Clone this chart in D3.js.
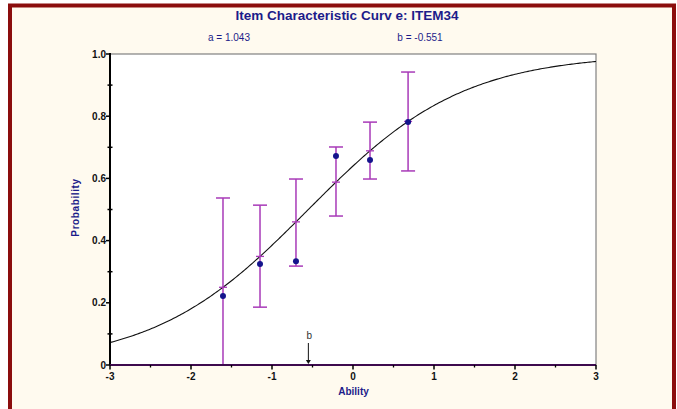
<!DOCTYPE html>
<html>
<head>
<meta charset="utf-8">
<script src="https://cdn.jsdelivr.net/npm/d3@7"></script>
<style>
  html, body { margin: 0; padding: 0; background: #ffffff; }
  svg { display: block; }
  text { font-family: Arial, "Liberation Sans", sans-serif; }
</style>
</head>
<body>
<svg id="chart" width="677" height="409"></svg>
<script>
// Item parameters (2PL logistic model)
const itemName = "ITEM34";
const paramA = 1.043;
const paramB = -0.551;

// Observed proportions at each ability group
const abilities = [-1.605, -1.148, -0.704, -0.21, 0.21, 0.68];
const observed  = [0.222, 0.325, 0.334, 0.672, 0.659, 0.781];
const lowerCI   = [-0.037, 0.186, 0.318, 0.479, 0.598, 0.624];
const upperCI   = [0.537, 0.514, 0.598, 0.701, 0.781, 0.942];

// Axis ticks
const xTicks = [-3, -2, -1, 0, 1, 2, 3];
const xMinor = [-2.5, -1.5, -0.5, 0.5, 1.5, 2.5];
const yTicks = [0, 0.2, 0.4, 0.6, 0.8, 1.0];
const yMinor = [0.1, 0.3, 0.5, 0.7, 0.9];
const yTickLabels = ["0", "0.2", "0.4", "0.6", "0.8", "1.0"];

const icc = t => 1 / (1 + Math.exp(-paramA * (t - paramB)));

const svg = d3.select("#chart");
const W = 677, H = 409;
const plot = { left: 110, right: 596, top: 54, bottom: 365 };

const x = d3.scaleLinear().domain([-3, 3]).range([plot.left, plot.right]);
const y = d3.scaleLinear().domain([0, 1]).range([plot.bottom, plot.top]);

const navy = "#1c1c8a";
const barColor = "#a83ab8";

// Outer panel with dark red frame
svg.append("rect").attr("x", 10).attr("y", 5.5).attr("width", 664).attr("height", H)
  .attr("fill", "#fffaef").attr("stroke", "#8b0d0d").attr("stroke-width", 4);

// Plot area
svg.append("rect").attr("x", plot.left).attr("y", plot.top)
  .attr("width", plot.right - plot.left).attr("height", plot.bottom - plot.top)
  .attr("fill", "#ffffff").attr("stroke", "#808080").attr("stroke-width", 1.2);

// Title and parameter captions
svg.append("text").attr("x", 347).attr("y", 20).attr("text-anchor", "middle")
  .attr("font-size", 13.5).attr("font-weight", "bold").attr("fill", navy)
  .text("Item Characteristic Curv e: " + itemName);
svg.append("text").attr("x", 229).attr("y", 41).attr("text-anchor", "middle")
  .attr("font-size", 10).attr("fill", navy).text("a = " + paramA.toFixed(3));
svg.append("text").attr("x", 420).attr("y", 41).attr("text-anchor", "middle")
  .attr("font-size", 10).attr("fill", navy).text("b = " + paramB.toFixed(3));

// Model curve
const curvePts = d3.range(-3, 3.0001, 0.02).map(t => [t, icc(t)]);
svg.append("path").datum(curvePts)
  .attr("d", d3.line().x(d => x(d[0])).y(d => y(d[1])))
  .attr("fill", "none").attr("stroke", "#111").attr("stroke-width", 1.1);

// Confidence intervals around the model curve
const clip = v => Math.max(0, Math.min(1, v));
const bars = svg.append("g");
abilities.forEach((a, i) => {
  const cx = x(a);
  const yl = y(clip(lowerCI[i])), yu = y(clip(upperCI[i]));
  bars.append("line").attr("x1", cx).attr("x2", cx).attr("y1", yl).attr("y2", yu)
    .attr("stroke", barColor).attr("stroke-width", 1.5);
  bars.append("line").attr("x1", cx - 7).attr("x2", cx + 7).attr("y1", yu).attr("y2", yu)
    .attr("stroke", barColor).attr("stroke-width", 1.5);
  if (lowerCI[i] >= 0) {
    bars.append("line").attr("x1", cx - 7).attr("x2", cx + 7).attr("y1", yl).attr("y2", yl)
      .attr("stroke", barColor).attr("stroke-width", 1.5);
  }
  const ym = y(icc(a));
  bars.append("line").attr("x1", cx - 4).attr("x2", cx + 4).attr("y1", ym).attr("y2", ym)
    .attr("stroke", barColor).attr("stroke-width", 1.3);
});

// Observed points
svg.append("g").selectAll("circle").data(abilities).join("circle")
  .attr("cx", d => x(d)).attr("cy", (d, i) => y(observed[i])).attr("r", 3)
  .attr("fill", "#14148c");

// Y axis
const yAxis = svg.append("g");
yAxis.append("line").attr("x1", plot.left).attr("x2", plot.left)
  .attr("y1", plot.top - 1).attr("y2", plot.bottom)
  .attr("stroke", "#000").attr("stroke-width", 2);
yTicks.forEach((t, i) => {
  yAxis.append("line").attr("x1", plot.left - 4).attr("x2", plot.left)
    .attr("y1", y(t)).attr("y2", y(t)).attr("stroke", "#000").attr("stroke-width", 1.5);
  yAxis.append("text").attr("x", plot.left - 4).attr("y", y(t) + 3.5)
    .attr("text-anchor", "end").attr("font-size", 10).attr("font-weight", "bold")
    .attr("fill", "#111").text(yTickLabels[i]);
});
yMinor.forEach(t => {
  yAxis.append("line").attr("x1", plot.left - 2.5).attr("x2", plot.left + 2.5)
    .attr("y1", y(t)).attr("y2", y(t)).attr("stroke", "#000").attr("stroke-width", 1.5);
});

// X axis
const xAxis = svg.append("g");
xAxis.append("line").attr("x1", plot.left).attr("x2", plot.right)
  .attr("y1", plot.bottom).attr("y2", plot.bottom)
  .attr("stroke", "#3d0a4d").attr("stroke-width", 2.2);
xTicks.forEach(t => {
  xAxis.append("line").attr("x1", x(t)).attr("x2", x(t))
    .attr("y1", plot.bottom).attr("y2", plot.bottom + 4.5)
    .attr("stroke", "#000").attr("stroke-width", 1.5);
  xAxis.append("text").attr("x", x(t)).attr("y", plot.bottom + 14.5)
    .attr("text-anchor", "middle").attr("font-size", 10).attr("font-weight", "bold")
    .attr("fill", "#111").text(t);
});
xMinor.forEach(t => {
  xAxis.append("line").attr("x1", x(t)).attr("x2", x(t))
    .attr("y1", plot.bottom).attr("y2", plot.bottom + 2.5)
    .attr("stroke", "#000").attr("stroke-width", 1.3);
});

// Difficulty marker
const bx = x(paramB);
svg.append("line").attr("x1", bx).attr("x2", bx).attr("y1", 343).attr("y2", plot.bottom - 3)
  .attr("stroke", "#111").attr("stroke-width", 1);
svg.append("path")
  .attr("d", `M${bx - 2.5},${plot.bottom - 5} L${bx + 2.5},${plot.bottom - 5} L${bx},${plot.bottom - 1} Z`)
  .attr("fill", "#111");
svg.append("text").attr("x", bx + 1).attr("y", 339).attr("text-anchor", "middle")
  .attr("font-size", 10).attr("fill", "#333").text("b");

// Axis titles
svg.append("text").attr("x", plot.left + (plot.right - plot.left) / 2 + 0.5).attr("y", 395)
  .attr("text-anchor", "middle").attr("font-size", 10).attr("font-weight", "bold")
  .attr("fill", navy).text("Ability");
svg.append("text")
  .attr("transform", `translate(79, ${(plot.top + plot.bottom) / 2 - 2}) rotate(-90)`)
  .attr("text-anchor", "middle").attr("font-size", 10).attr("font-weight", "bold")
  .attr("letter-spacing", 0.6).attr("fill", navy).text("Probability");
</script>
</body>
</html>
